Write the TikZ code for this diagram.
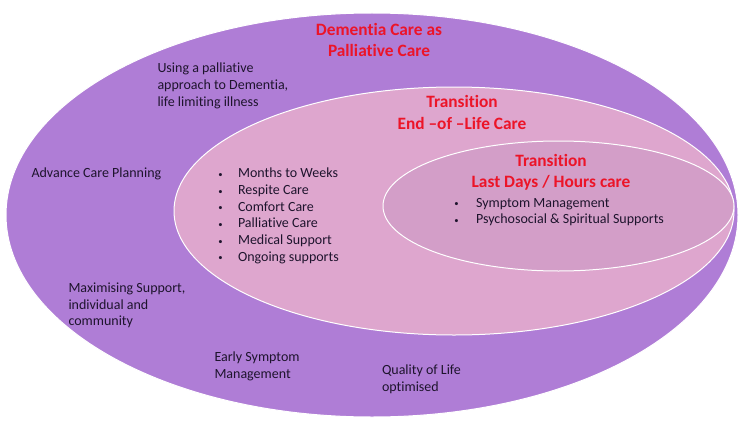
\documentclass[tikz,border=0pt]{standalone}
\usepackage{fontspec}
\setmainfont{Carlito}[Ligatures={TeX,NoCommon}]

\definecolor{outerpurple}{RGB}{175,125,214}
\definecolor{midpink}{RGB}{222,166,206}
\definecolor{innerpink}{RGB}{211,158,200}
\definecolor{titlered}{RGB}{236,20,40}
\definecolor{bodytext}{RGB}{30,20,45}

\tikzset{every picture/.style={line width=0.75pt}}
\tikzset{
  title/.style={anchor=center, inner sep=0.75pt, align=center, text=titlered,
    font=\fontsize{13}{15.8}\selectfont\bfseries},
  body/.style={anchor=west, inner sep=0.75pt, align=left, text=bodytext,
    font=\fontsize{10.5}{12.5}\selectfont},
}
\newcommand{\bulletitem}[2]{\makebox[#1][l]{\hspace{0.6pt}{\fontsize{6.5}{6.5}\selectfont\raisebox{0.4pt}{\textbullet}}}#2}

\begin{document}
\begin{tikzpicture}[x=0.75pt,y=0.75pt,yscale=-1,xscale=1]
\path (0,0) rectangle (745,435); %set diagram to 745 x 435

%Shape: Ellipse [id:dp2917] 
\draw [color=white, fill=outerpurple] (372,215) ellipse (366 and 202);
%Shape: Ellipse [id:dp4403] 
\draw [color=white, fill=midpink] (454,211) ellipse (280 and 124);
%Shape: Ellipse [id:dp7836] 
\draw [color=white, fill=innerpink] (558.5,206) ellipse (175.5 and 65);

% Text Node
\draw (379,39.7) node [title] (dementia) {Dementia Care as\\Palliative Care};
% Text Node
\draw (462,112.5) node [title] (endoflife) {Transition\\End –of –Life Care};
% Text Node
\draw (551,172.5) node [title] (lastdays) {Transition\\Last Days / Hours care};

% Text Node
\draw (156,85.8) node [body] (approach) {Using a palliative\\approach to Dementia,\\life limiting illness};
% Text Node
\draw (30,174) node [body] (planning) {Advance Care Planning};
% Text Node
\draw (67,305.5) node [body] (maximising) {Maximising Support,\\individual and\\community};
% Text Node
\draw (213,366.3) node [body] (earlysymptom) {Early Symptom\\Management};
% Text Node
\draw (380.5,379) node [body] (quality) {Quality of Life\\optimised};

% Text Node
\draw (216,216) node [body] (eolclist) {\bulletitem{15.4pt}{Months to Weeks}\\\bulletitem{15.4pt}{Respite Care}\\\bulletitem{15.4pt}{Comfort Care}\\\bulletitem{15.4pt}{Palliative Care}\\\bulletitem{15.4pt}{Medical Support}\\\bulletitem{15.4pt}{Ongoing supports}};
% Text Node
\draw (452,212) node [body] (lastdayslist) {\bulletitem{16.9pt}{Symptom Management}\\\bulletitem{16.9pt}{Psychosocial \& Spiritual Supports}};

\end{tikzpicture}
\end{document}
